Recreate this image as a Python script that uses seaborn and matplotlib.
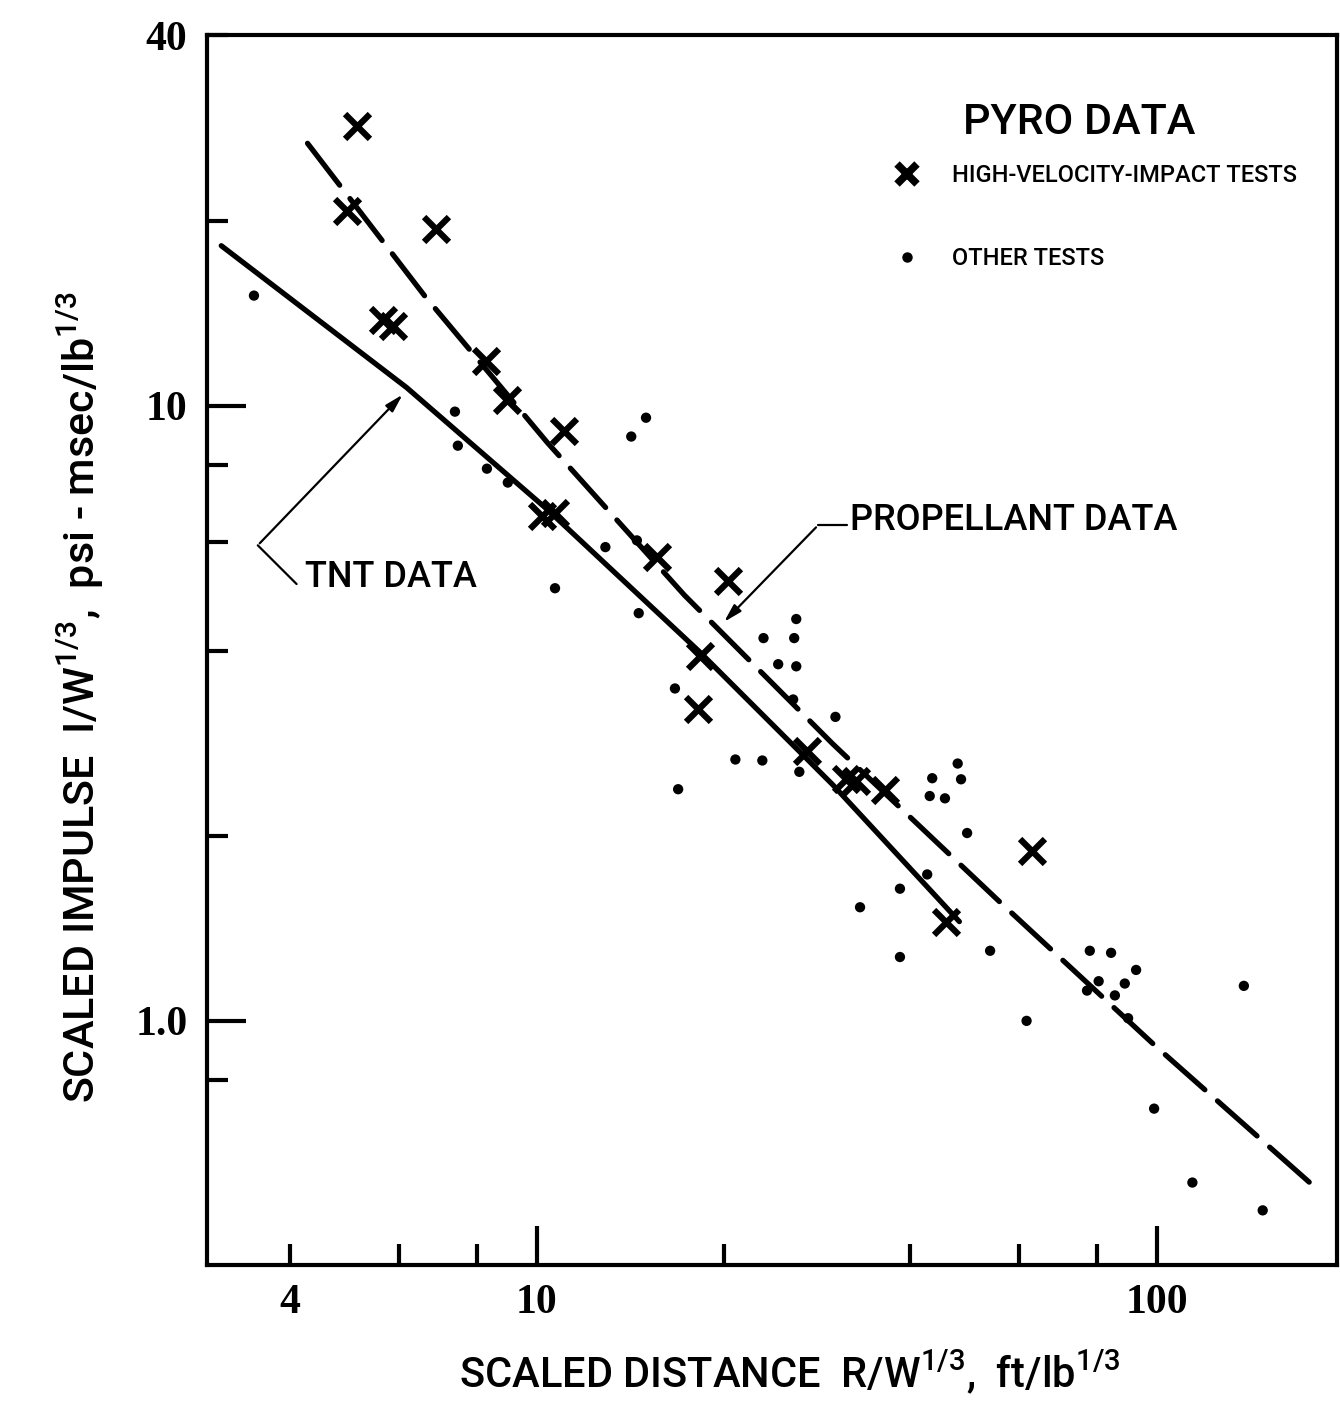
import numpy as np
import pandas as pd
import matplotlib
matplotlib.use("Agg")
import matplotlib.pyplot as plt
import seaborn as sns
from matplotlib.lines import Line2D
from matplotlib.ticker import FixedLocator, FixedFormatter

# ---------------- data ----------------
# High-velocity-impact tests (X markers)
hvi_distance = [5.13, 4.94, 6.87, 5.65, 5.86, 8.27, 8.95, 11.05, 10.2, 10.7,
                15.6, 20.3, 18.3, 18.2, 27.3, 31.5, 32.7, 36.4, 62.9, 45.7]
hvi_impulse = [28.5, 20.7, 19.4, 13.8, 13.5, 11.8, 10.2, 9.08, 6.61, 6.68,
               5.67, 5.19, 3.92, 3.21, 2.75, 2.47, 2.45, 2.37, 1.89, 1.45]

# Other tests (dots)
other_distance = [3.50, 7.38, 7.46, 8.31, 8.98, 10.7, 12.9, 14.2, 15.0, 14.5,
                  14.6, 16.7, 16.9, 20.9, 23.1, 23.2, 24.5, 26.2, 26.0, 26.2,
                  25.9, 26.5, 30.3, 47.7, 43.4, 48.3, 43.0, 45.5, 49.4, 42.6,
                  38.5, 33.2, 38.5, 53.8, 61.6, 77.9, 84.3, 92.5, 80.5, 88.7,
                  85.5, 77.1, 89.8, 98.9, 114, 138, 148]
other_impulse = [15.1, 9.78, 8.61, 7.90, 7.50, 5.05, 5.89, 8.91, 9.56, 6.04,
                 4.60, 3.47, 2.38, 2.66, 2.65, 4.19, 3.80, 4.50, 4.19, 3.77,
                 3.33, 2.54, 3.12, 2.62, 2.48, 2.47, 2.32, 2.30, 2.02, 1.73,
                 1.64, 1.53, 1.27, 1.30, 1.00, 1.30, 1.29, 1.21, 1.16, 1.15,
                 1.10, 1.12, 1.01, 0.720, 0.546, 1.14, 0.492]

# TNT data curve (solid)
tnt_distance = [3.10, 6.17, 10.4, 18.3, 30.0, 48.0]
tnt_impulse = [18.2, 10.7, 6.78, 3.98, 2.42, 1.45]

# Propellant data curve (dashed)
prop_distance = [4.27, 6.59, 10.4, 17.3, 30.0, 55.8, 99.3, 178]
prop_impulse = [26.7, 15.1, 8.71, 4.92, 2.82, 1.56, 0.911, 0.541]

# tick values / labels
x_major = [10, 100]
x_major_labels = ["10", "100"]
x_minor = [4, 6, 8, 20, 40, 60, 80]
x_minor_labels = ["4", "", "", "", "", "", ""]
y_major = [1, 10]
y_major_labels = ["1.0", "10"]
y_minor = [0.8, 2, 4, 6, 8, 20, 40]
y_minor_labels = ["", "", "", "", "", "", "40"]

legend_labels = ["HIGH-VELOCITY-IMPACT TESTS", "OTHER TESTS"]
legend_title = "PYRO DATA"

# annotation anchor points (data coords)
tnt_text_pos = (4.23, 5.26)
tnt_corner = (3.55, 5.93)
tnt_tail = (4.10, 5.13)
tnt_tip = (6.12, 10.5)
prop_text_pos = (32.0, 6.51)
prop_corner = (28.4, 6.39)
prop_tail = (31.6, 6.39)
prop_tip = (19.9, 4.42)

# ---------------- style ----------------
sns.set_theme(style="white")
plt.rcParams["font.family"] = ["Roboto", "DejaVu Sans"]
plt.rcParams["font.weight"] = "medium"
plt.rcParams["axes.labelweight"] = "medium"
plt.rcParams["mathtext.default"] = "regular"
plt.rcParams["text.color"] = "black"
plt.rcParams["axes.labelcolor"] = "black"
plt.rcParams["xtick.color"] = "black"
plt.rcParams["ytick.color"] = "black"

W, H = 1340, 1405
fig = plt.figure(figsize=(W / 100, H / 100), dpi=100)
ax = fig.add_axes([207 / W, 1 - 1265 / H, (1337 - 207) / W, (1265 - 35) / H])

hvi_df = pd.DataFrame({"distance": hvi_distance, "impulse": hvi_impulse})
oth_df = pd.DataFrame({"distance": other_distance, "impulse": other_impulse})
tnt_df = pd.DataFrame({"distance": tnt_distance, "impulse": tnt_impulse})
prop_df = pd.DataFrame({"distance": prop_distance, "impulse": prop_impulse})

sns.lineplot(data=tnt_df, x="distance", y="impulse", sort=False, estimator=None,
             color="black", lw=3.8, ax=ax, solid_capstyle="round")
sns.lineplot(data=prop_df, x="distance", y="impulse", sort=False, estimator=None,
             color="black", lw=3.8, ax=ax, linestyle=(0, (10, 3.2)),
             dash_capstyle="round")
sns.scatterplot(data=oth_df, x="distance", y="impulse", marker="o", s=55,
                color="black", edgecolor="none", ax=ax, zorder=3)
sns.scatterplot(data=hvi_df, x="distance", y="impulse", marker="x", s=320,
                color="black", linewidth=4.5, ax=ax, zorder=4)

ax.set_xscale("log")
ax.set_yscale("log")
ax.set_xlim(2.94, 195)
ax.set_ylim(0.401, 40.05)

for sp in ax.spines.values():
    sp.set_linewidth(3)
    sp.set_color("black")

ax.xaxis.set_major_locator(FixedLocator(x_major))
ax.xaxis.set_major_formatter(FixedFormatter(x_major_labels))
ax.xaxis.set_minor_locator(FixedLocator(x_minor))
ax.xaxis.set_minor_formatter(FixedFormatter(x_minor_labels))
ax.yaxis.set_major_locator(FixedLocator(y_major))
ax.yaxis.set_major_formatter(FixedFormatter(y_major_labels))
ax.yaxis.set_minor_locator(FixedLocator(y_minor))
ax.yaxis.set_minor_formatter(FixedFormatter(y_minor_labels))

ax.tick_params(axis="both", which="major", direction="in", length=28, width=3,
               color="black", pad=14, bottom=True, left=True, top=False, right=False)
ax.tick_params(axis="both", which="minor", direction="in", length=15, width=3,
               color="black", pad=14, bottom=True, left=True, top=False, right=False)

for lab in ax.get_xticklabels(which="both") + ax.get_yticklabels(which="both"):
    lab.set_fontfamily("Liberation Serif")
    lab.set_fontweight("bold")
    lab.set_fontsize(30)

ax.set_xlabel("SCALED DISTANCE  R/W$^{1/3}$,  ft/lb$^{1/3}$", fontsize=30,
              fontweight="medium")
ax.set_ylabel("SCALED IMPULSE  I/W$^{1/3}$,  psi - msec/lb$^{1/3}$", fontsize=31,
              fontweight="medium")
ax.yaxis.set_label_coords(-0.089, 0.462)
ax.xaxis.set_label_coords(0.516, -0.068)

# legend
handles = [
    Line2D([], [], marker="x", color="black", ls="none", markersize=15, mew=5.5),
    Line2D([], [], marker="o", color="black", ls="none", markersize=6.5),
]
leg = ax.legend(handles, legend_labels, frameon=False, loc="upper left",
                bbox_to_anchor=(895 / W, 1 - 164 / H), bbox_transform=fig.transFigure,
                fontsize=17, handlelength=1.0, handletextpad=1.4, labelspacing=2.55,
                borderpad=0, borderaxespad=0)
ax.text((1079 - 207) / 1130, (1265 - 122) / 1230, legend_title, transform=ax.transAxes,
        fontsize=31, ha="center", va="center")

# annotations
ax.text(*tnt_text_pos, "TNT DATA", fontsize=26, va="center", ha="left")
ax.plot([tnt_tail[0], tnt_corner[0]], [tnt_tail[1], tnt_corner[1]], color="black", lw=1.6)
ax.annotate("", xy=tnt_tip, xytext=tnt_corner,
            arrowprops=dict(arrowstyle="-|>,head_length=0.9,head_width=0.25",
                            color="black", lw=1.6))
ax.text(*prop_text_pos, "PROPELLANT DATA", fontsize=26, va="center", ha="left")
ax.plot([prop_tail[0], prop_corner[0]], [prop_tail[1], prop_corner[1]], color="black", lw=1.6)
ax.annotate("", xy=prop_tip, xytext=prop_corner,
            arrowprops=dict(arrowstyle="-|>,head_length=0.9,head_width=0.25",
                            color="black", lw=1.6))

fig.savefig("out.png", dpi=100, facecolor="white")
